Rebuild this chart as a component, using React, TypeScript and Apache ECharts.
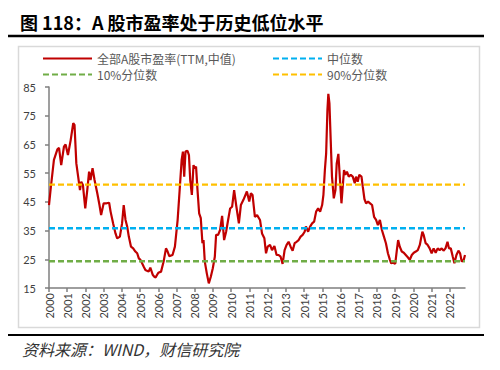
import React, { useEffect, useRef } from 'react';
import * as echarts from 'echarts';

const YEARS = [2000, 2001, 2002, 2003, 2004, 2005, 2006, 2007, 2008, 2009, 2010, 2011, 2012, 2013, 2014, 2015, 2016, 2017, 2018, 2019, 2020, 2021, 2022];
const Y_TICKS = [15, 25, 35, 45, 55, 65, 75, 85];

const DATES = [
  2000.00, 2000.10, 2000.27, 2000.46, 2000.55, 2000.67, 2000.82, 2000.91, 2001.04, 2001.19,
  2001.33, 2001.40, 2001.50, 2001.60, 2001.70, 2001.77, 2001.86, 2001.99, 2002.10, 2002.20,
  2002.28, 2002.39, 2002.50, 2002.65, 2002.77, 2002.86, 2003.00, 2003.16, 2003.30, 2003.38,
  2003.52, 2003.65, 2003.74, 2003.89, 2004.01, 2004.10, 2004.20, 2004.29, 2004.38, 2004.50,
  2004.62, 2004.74, 2004.84, 2004.93, 2005.02, 2005.20, 2005.29, 2005.47, 2005.56, 2005.70,
  2005.78, 2005.85, 2006.00, 2006.15, 2006.29, 2006.42, 2006.51, 2006.60, 2006.78, 2006.91,
  2007.06, 2007.17, 2007.28, 2007.35, 2007.42, 2007.49, 2007.60, 2007.68, 2007.75, 2007.84,
  2007.93, 2008.00, 2008.07, 2008.15, 2008.24, 2008.33, 2008.42, 2008.48, 2008.55, 2008.66,
  2008.77, 2008.88, 2008.99, 2009.10, 2009.17, 2009.28, 2009.39, 2009.50, 2009.61, 2009.72,
  2009.83, 2009.94, 2010.05, 2010.16, 2010.27, 2010.42, 2010.53, 2010.67, 2010.86, 2010.99,
  2011.08, 2011.17, 2011.30, 2011.42, 2011.58, 2011.69, 2011.82, 2011.91, 2012.00, 2012.13,
  2012.24, 2012.37, 2012.49, 2012.60, 2012.71, 2012.82, 2012.93, 2013.04, 2013.15, 2013.26,
  2013.37, 2013.48, 2013.59, 2013.70, 2013.81, 2013.92, 2014.03, 2014.10, 2014.22, 2014.33,
  2014.44, 2014.55, 2014.66, 2014.77, 2014.88, 2014.99, 2015.06, 2015.14, 2015.21, 2015.28,
  2015.33, 2015.39, 2015.46, 2015.53, 2015.63, 2015.72, 2015.79, 2015.88, 2015.97, 2016.05,
  2016.12, 2016.19, 2016.26, 2016.35, 2016.45, 2016.56, 2016.67, 2016.78, 2016.85, 2016.94,
  2017.03, 2017.15, 2017.22, 2017.31, 2017.40, 2017.51, 2017.62, 2017.73, 2017.84, 2017.95,
  2018.05, 2018.16, 2018.27, 2018.38, 2018.49, 2018.60, 2018.71, 2018.78, 2018.89, 2019.00,
  2019.09, 2019.16, 2019.25, 2019.36, 2019.47, 2019.58, 2019.69, 2019.80, 2019.91, 2020.02,
  2020.13, 2020.24, 2020.35, 2020.42, 2020.49, 2020.56, 2020.67, 2020.78, 2020.89, 2021.00,
  2021.11, 2021.22, 2021.33, 2021.44, 2021.55, 2021.65, 2021.76, 2021.87, 2021.95, 2022.05,
  2022.16, 2022.25, 2022.36, 2022.47, 2022.56, 2022.65, 2022.76, 2022.83,
];

const PE = [
  43.9, 50.0, 59.6, 63.3, 63.8, 57.8, 64.2, 65.0, 61.3, 66.5,
  72.4, 71.8, 58.4, 53.8, 49.1, 52.0, 50.9, 42.7, 49.1, 55.5,
  52.6, 56.7, 52.6, 48.0, 43.9, 40.4, 44.5, 44.5, 44.7, 41.6,
  37.5, 34.0, 32.3, 32.9, 37.5, 43.9, 38.7, 36.4, 32.9, 29.4,
  28.8, 27.7, 27.1, 25.3, 24.8, 22.4, 21.3, 20.7, 22.1, 19.5,
  18.9, 18.7, 20.3, 20.7, 24.2, 28.8, 27.7, 26.1, 26.5, 29.4,
  38.7, 49.1, 59.6, 62.5, 53.8, 62.5, 62.8, 61.3, 52.6, 47.4,
  57.8, 56.7, 57.3, 49.1, 41.0, 39.3, 30.6, 31.7, 24.2, 20.1,
  16.6, 18.9, 21.9, 25.9, 33.5, 33.5, 35.2, 40.1, 31.7, 34.6,
  38.7, 42.7, 43.3, 49.1, 43.9, 37.5, 43.9, 45.7, 48.6, 45.1,
  48.0, 47.4, 39.8, 40.4, 38.7, 34.0, 32.3, 27.1, 29.4, 30.0,
  28.2, 29.6, 26.5, 26.5, 25.9, 23.4, 28.2, 30.0, 31.1, 29.4,
  28.0, 30.6, 31.1, 31.7, 32.9, 33.5, 34.6, 36.4, 34.6, 36.4,
  37.5, 38.1, 41.6, 42.7, 41.6, 43.9, 47.4, 56.1, 61.9, 77.0,
  82.6, 79.3, 66.5, 53.8, 46.2, 49.1, 58.4, 61.7, 52.6, 44.5,
  50.3, 56.1, 54.4, 55.5, 53.8, 54.4, 53.8, 51.5, 53.8, 52.0,
  54.4, 53.8, 50.3, 46.0, 44.5, 45.1, 44.5, 43.9, 39.8, 38.7,
  36.9, 38.7, 35.2, 32.9, 30.6, 27.1, 24.8, 23.6, 23.8, 23.4,
  28.2, 31.7, 29.4, 27.7, 27.3, 26.5, 25.7, 24.8, 26.5, 27.3,
  27.7, 28.2, 30.0, 32.3, 34.6, 33.5, 30.6, 30.0, 28.8, 27.1,
  28.8, 27.3, 28.8, 28.2, 28.8, 28.0, 28.8, 31.1, 28.8, 28.8,
  25.9, 23.6, 26.5, 28.0, 27.1, 24.2, 24.8, 26.5,
];

const LEVEL_NAMES = ['中位数', '10%分位数', '90%分位数'];
const LEVEL_VALUES = [35.8, 24.3, 51.0];
const LEVEL_COLORS = ['#00B0F0', '#70AD47', '#FFC000'];
const MAIN_NAME = '全部A股市盈率(TTM,中值)';

const X_START = 2000;
const X_END = 2022.83;

export default function App() {
  const ref = useRef<HTMLDivElement>(null);
  useEffect(() => {
    if (!ref.current) return;
    const chart = echarts.init(ref.current, undefined, { renderer: 'svg' });
    const axisColor = '#7F7F7F';
    const lblFont = 'Lato';
    const legendText = { fontSize: 12, lineHeight: 12, color: '#595959', fontFamily: 'Noto Sans CJK SC' };
    const mainSeries = {
      name: MAIN_NAME,
      type: 'line',
      data: DATES.map((d, i) => [d, PE[i]]),
      showSymbol: false,
      symbol: 'none',
      lineStyle: { color: '#C00000', width: 2.2 },
      itemStyle: { color: '#C00000' },
      z: 2,
    };
    const levelSeries = LEVEL_NAMES.map((n, i) => ({
      name: n,
      type: 'line',
      data: [[X_START, LEVEL_VALUES[i]], [X_END, LEVEL_VALUES[i]]],
      showSymbol: false,
      symbol: 'none',
      lineStyle: { color: LEVEL_COLORS[i], width: 2.4, type: [6, 3] },
      itemStyle: { color: LEVEL_COLORS[i] },
      z: 3,
    }));
    const legendPos = [
      { name: MAIN_NAME, left: 42, top: 52.5 },
      { name: LEVEL_NAMES[0], left: 272, top: 52.5 },
      { name: LEVEL_NAMES[1], left: 42, top: 68.5 },
      { name: LEVEL_NAMES[2], left: 272, top: 68.5 },
    ];
    chart.setOption({
      animation: false,
      backgroundColor: '#ffffff',
      legend: legendPos.map((p) => ({
        data: [p.name],
        left: p.left,
        top: p.top,
        padding: 0,
        itemWidth: 49,
        itemHeight: 12,
        itemStyle: { opacity: 0, borderWidth: 0 },
        textStyle: legendText,
        selectedMode: false,
      })),
      grid: { left: 49, right: 500 - 465, top: 87, bottom: 370 - 288, containLabel: false },
      xAxis: {
        type: 'value',
        min: X_START,
        max: X_END,
        axisLine: { show: true, lineStyle: { color: axisColor, width: 1.5 } },
        axisTick: { show: true, customValues: YEARS, length: 4, lineStyle: { color: axisColor, width: 1.5 } },
        axisLabel: {
          customValues: YEARS,
          rotate: 90,
          margin: 5,
          fontSize: 11,
          color: '#404040',
          fontFamily: lblFont,
          formatter: (v: number) => String(Math.round(v)),
        },
        splitLine: { show: false },
      },
      yAxis: {
        type: 'value',
        min: 15,
        max: 85,
        axisLine: { show: true, lineStyle: { color: axisColor, width: 1.5 } },
        axisTick: { show: true, customValues: Y_TICKS, length: 4, lineStyle: { color: axisColor, width: 1.5 } },
        axisLabel: {
          customValues: Y_TICKS,
          margin: 13,
          fontSize: 11,
          color: '#404040',
          fontFamily: lblFont,
        },
        splitLine: { show: false },
      },
      graphic: [
        {
          type: 'text',
          left: 20,
          top: 13,
          style: {
            text: '图 118：A 股市盈率处于历史低位水平',
            font: 'bold 18px "Noto Sans CJK SC"',
            fill: '#000000',
          },
        },
        { type: 'line', shape: { x1: 8, y1: 36, x2: 484, y2: 36 }, style: { stroke: '#000000', lineWidth: 2.5 } },
        { type: 'rect', shape: { x: 18.5, y: 46.5, width: 461, height: 281 }, style: { fill: 'none', stroke: '#D9D9D9', lineWidth: 1.5 }, z: -1 },
        { type: 'line', shape: { x1: 8, y1: 335, x2: 484, y2: 335 }, style: { stroke: '#000000', lineWidth: 2.2 } },
        {
          type: 'text',
          left: 22,
          top: 341,
          style: {
            text: '资料来源：WIND，财信研究院',
            font: 'italic 16px "Noto Sans CJK SC"',
            fill: '#333333',
          },
        },
      ],
      series: [mainSeries, ...levelSeries],
    });
    return () => chart.dispose();
  }, []);
  return <div ref={ref} style={{ position: 'absolute', left: 0, top: 0, width: 500, height: 370 }} />;
}
